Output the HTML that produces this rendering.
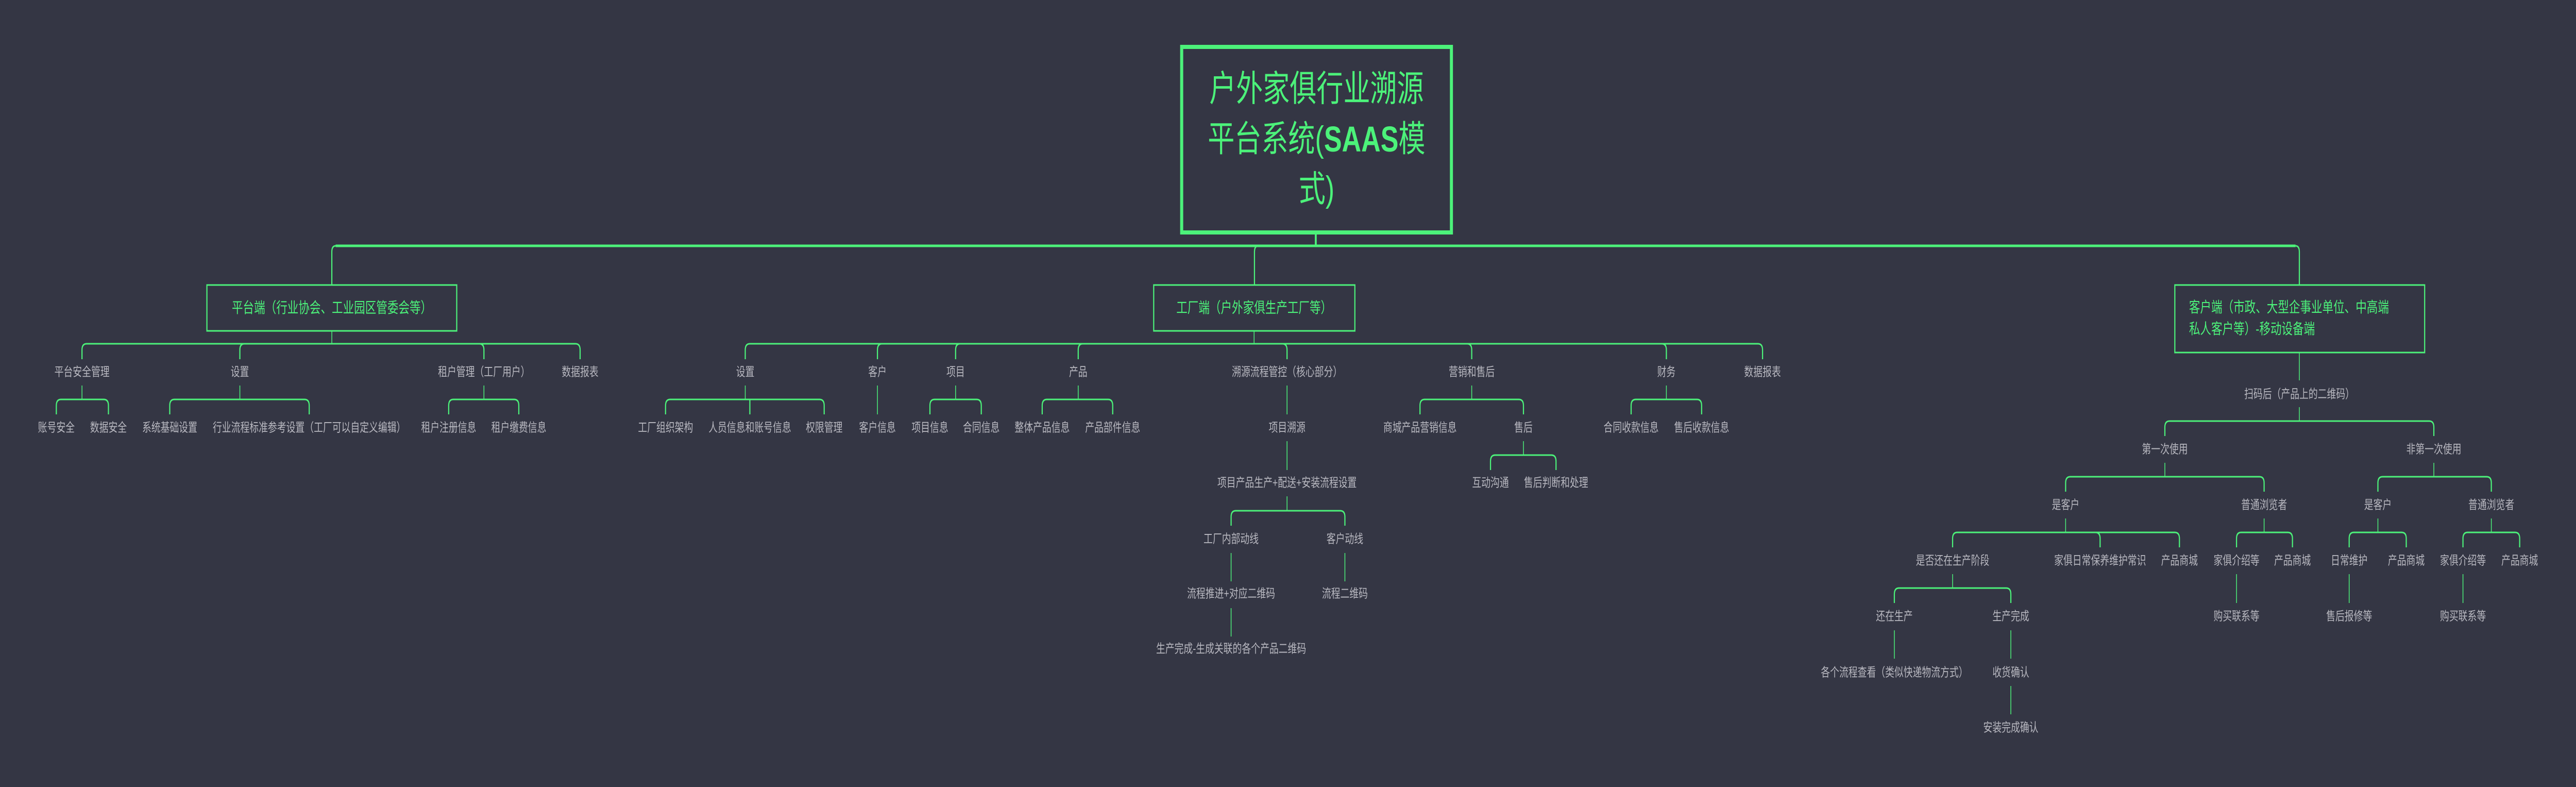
<!DOCTYPE html>
<html><head><meta charset="utf-8">
<style>
html,body{margin:0;padding:0;background:#343644;width:100vw;height:100vh;overflow:hidden;}
svg{display:block;width:100vw;height:100vh;position:absolute;left:0;top:0;}
.l{font-family:"Liberation Sans","Noto Sans CJK SC",sans-serif;font-size:24px;fill:#b8b8c0;text-anchor:middle;dominant-baseline:central;}
.b{font-family:"Liberation Sans","Noto Sans CJK SC",sans-serif;font-size:29px;fill:#4cf27a;dominant-baseline:central;}
.c{fill:none;stroke:#4cf27a;stroke-width:2;}
.bus{fill:none;stroke:#4cf27a;stroke-width:3;}
</style></head>
<body>
<svg viewBox="0 0 6723 1527" preserveAspectRatio="none" xmlns="http://www.w3.org/2000/svg">
<rect width="6723" height="1527" fill="#343644"/>

<rect x="3084" y="91" width="704" height="360" fill="none" stroke="#4cf27a" stroke-width="8"/>
<g style="font-family:'Liberation Sans','Noto Sans CJK SC',sans-serif;font-size:70px;fill:#4cf27a;text-anchor:middle;dominant-baseline:central;">
<text x="3436" y="173">户外家俱行业溯源</text>
<text x="3436" y="270">平台系统(<tspan font-weight="bold">SAAS</tspan>模</text>
<text x="3436" y="367">式)</text>
</g>
<line x1="3434" y1="455" x2="3434" y2="478" stroke="#4cf27a" stroke-width="5"/>
<path d="M876,477 H5991" stroke="#4cf27a" stroke-width="5" fill="none"/>
<path d="M876,477 Q866,477 866,489 V552" class="bus"/>
<path d="M5991,477 Q6001,477 6001,489 V552" class="bus"/>
<path d="M3284,477 Q3274,477 3274,489 V552" class="bus"/>

<rect x="540" y="553" width="652" height="89" fill="none" stroke="#4cf27a" stroke-width="3"/>
<text class="b" x="866" y="598" text-anchor="middle">平台端（行业协会、工业园区管委会等）</text>
<line x1="866" y1="643" x2="866" y2="667" class="c"/>
<path class="bus" d="M866,667 H226 Q214,667 214,679 V697"/>
<path class="bus" d="M866,667 H638 Q626,667 626,679 V697"/>
<path class="bus" d="M866,667 H1251 Q1263,667 1263,679 V697"/>
<path class="bus" d="M866,667 H1502 Q1514,667 1514,679 V697"/>
<text class="l" x="214" y="722">平台安全管理</text>
<text class="l" x="626" y="722">设置</text>
<text class="l" x="1263" y="722">租户管理（工厂用户）</text>
<text class="l" x="1514" y="722">数据报表</text>
<line class="c" x1="214" y1="748" x2="214" y2="775"/>
<path class="bus" d="M214,775 H159 Q147,775 147,787 V804"/>
<path class="bus" d="M214,775 H271 Q283,775 283,787 V804"/>
<line class="c" x1="626" y1="748" x2="626" y2="775"/>
<path class="bus" d="M626,775 H455 Q443,775 443,787 V804"/>
<path class="bus" d="M626,775 H795 Q807,775 807,787 V804"/>
<line class="c" x1="1263" y1="748" x2="1263" y2="775"/>
<path class="bus" d="M1263,775 H1183 Q1171,775 1171,787 V804"/>
<path class="bus" d="M1263,775 H1342 Q1354,775 1354,787 V804"/>
<text class="l" x="147" y="830">账号安全</text>
<text class="l" x="283" y="830">数据安全</text>
<text class="l" x="443" y="830">系统基础设置</text>
<text class="l" x="807" y="830">行业流程标准参考设置（工厂可以自定义编辑）</text>
<text class="l" x="1171" y="830">租户注册信息</text>
<text class="l" x="1354" y="830">租户缴费信息</text>

<rect x="3011" y="553" width="525" height="89" fill="none" stroke="#4cf27a" stroke-width="3"/>
<text class="b" x="3273" y="598" text-anchor="middle">工厂端（户外家俱生产工厂等）</text>
<line x1="3273" y1="643" x2="3273" y2="667" class="c"/>
<path class="bus" d="M3273,667 H1957 Q1945,667 1945,679 V697"/>
<path class="bus" d="M3273,667 H2302 Q2290,667 2290,679 V697"/>
<path class="bus" d="M3273,667 H2506 Q2494,667 2494,679 V697"/>
<path class="bus" d="M3273,667 H2826 Q2814,667 2814,679 V697"/>
<path class="bus" d="M3273,667 H3347 Q3359,667 3359,679 V697"/>
<path class="bus" d="M3273,667 H3829 Q3841,667 3841,679 V697"/>
<path class="bus" d="M3273,667 H4337 Q4349,667 4349,679 V697"/>
<path class="bus" d="M3273,667 H4588 Q4600,667 4600,679 V697"/>
<text class="l" x="1945" y="722">设置</text>
<text class="l" x="2290" y="722">客户</text>
<text class="l" x="2494" y="722">项目</text>
<text class="l" x="2814" y="722">产品</text>
<text class="l" x="3359" y="722">溯源流程管控（核心部分）</text>
<text class="l" x="3841" y="722">营销和售后</text>
<text class="l" x="4349" y="722">财务</text>
<text class="l" x="4600" y="722">数据报表</text>
<line class="c" x1="1945" y1="748" x2="1945" y2="775"/>
<path class="bus" d="M1945,775 H1749 Q1737,775 1737,787 V804"/>
<path class="bus" d="M1945,775 H1957 V804"/>
<path class="bus" d="M1945,775 H2139 Q2151,775 2151,787 V804"/>
<line class="c" x1="2290" y1="748" x2="2290" y2="804"/>
<line class="c" x1="2494" y1="748" x2="2494" y2="775"/>
<path class="bus" d="M2494,775 H2439 Q2427,775 2427,787 V804"/>
<path class="bus" d="M2494,775 H2549 Q2561,775 2561,787 V804"/>
<line class="c" x1="2814" y1="748" x2="2814" y2="775"/>
<path class="bus" d="M2814,775 H2732 Q2720,775 2720,787 V804"/>
<path class="bus" d="M2814,775 H2892 Q2904,775 2904,787 V804"/>
<line class="c" x1="3359" y1="748" x2="3359" y2="804"/>
<line class="c" x1="3841" y1="748" x2="3841" y2="775"/>
<path class="bus" d="M3841,775 H3718 Q3706,775 3706,787 V804"/>
<path class="bus" d="M3841,775 H3964 Q3976,775 3976,787 V804"/>
<line class="c" x1="4349" y1="748" x2="4349" y2="775"/>
<path class="bus" d="M4349,775 H4269 Q4257,775 4257,787 V804"/>
<path class="bus" d="M4349,775 H4429 Q4441,775 4441,787 V804"/>
<text class="l" x="1737" y="830">工厂组织架构</text>
<text class="l" x="1957" y="830">人员信息和账号信息</text>
<text class="l" x="2151" y="830">权限管理</text>
<text class="l" x="2290" y="830">客户信息</text>
<text class="l" x="2427" y="830">项目信息</text>
<text class="l" x="2561" y="830">合同信息</text>
<text class="l" x="2720" y="830">整体产品信息</text>
<text class="l" x="2904" y="830">产品部件信息</text>
<text class="l" x="3359" y="830">项目溯源</text>
<text class="l" x="3706" y="830">商城产品营销信息</text>
<text class="l" x="3976" y="830">售后</text>
<text class="l" x="4257" y="830">合同收款信息</text>
<text class="l" x="4441" y="830">售后收款信息</text>
<line class="c" x1="3359" y1="856" x2="3359" y2="912"/>
<line class="c" x1="3976" y1="856" x2="3976" y2="883"/>
<path class="bus" d="M3976,883 H3902 Q3890,883 3890,895 V912"/>
<path class="bus" d="M3976,883 H4049 Q4061,883 4061,895 V912"/>
<text class="l" x="3359" y="937">项目产品生产+配送+安装流程设置</text>
<text class="l" x="3890" y="937">互动沟通</text>
<text class="l" x="4061" y="937">售后判断和处理</text>
<line class="c" x1="3359" y1="963" x2="3359" y2="991"/>
<path class="bus" d="M3359,991 H3225 Q3213,991 3213,1003 V1020"/>
<path class="bus" d="M3359,991 H3498 Q3510,991 3510,1003 V1020"/>
<text class="l" x="3213" y="1046">工厂内部动线</text>
<text class="l" x="3510" y="1046">客户动线</text>
<line class="c" x1="3213" y1="1073" x2="3213" y2="1128"/>
<line class="c" x1="3510" y1="1073" x2="3510" y2="1128"/>
<text class="l" x="3213" y="1152">流程推进+对应二维码</text>
<text class="l" x="3510" y="1152">流程二维码</text>
<line class="c" x1="3213" y1="1180" x2="3213" y2="1235"/>
<text class="l" x="3213" y="1259">生产完成-生成关联的各个产品二维码</text>

<rect x="5676" y="553" width="652" height="131" fill="none" stroke="#4cf27a" stroke-width="3"/>
<text class="b" x="5713" y="597">客户端（市政、大型企事业单位、中高端</text>
<text class="b" x="5713" y="639">私人客户等）-移动设备端</text>
<line class="c" x1="6001" y1="685" x2="6001" y2="738"/>
<text class="l" x="6001" y="765">扫码后（产品上的二维码）</text>
<line class="c" x1="6001" y1="790" x2="6001" y2="817"/>
<path class="bus" d="M6001,817 H5662 Q5650,817 5650,829 V846"/>
<path class="bus" d="M6001,817 H6340 Q6352,817 6352,829 V846"/>
<text class="l" x="5650" y="872">第一次使用</text>
<text class="l" x="6352" y="872">非第一次使用</text>
<line class="c" x1="5650" y1="898" x2="5650" y2="925"/>
<path class="bus" d="M5650,925 H5403 Q5391,925 5391,937 V954"/>
<path class="bus" d="M5650,925 H5897 Q5909,925 5909,937 V954"/>
<line class="c" x1="6352" y1="898" x2="6352" y2="925"/>
<path class="bus" d="M6352,925 H6218 Q6206,925 6206,937 V954"/>
<path class="bus" d="M6352,925 H6490 Q6502,925 6502,937 V954"/>
<text class="l" x="5391" y="980">是客户</text>
<text class="l" x="5909" y="980">普通浏览者</text>
<text class="l" x="6206" y="980">是客户</text>
<text class="l" x="6502" y="980">普通浏览者</text>
<line class="c" x1="5391" y1="1006" x2="5391" y2="1033"/>
<path class="bus" d="M5391,1033 H5108 Q5096,1033 5096,1045 V1062"/>
<path class="bus" d="M5391,1033 H5469 Q5481,1033 5481,1045 V1062"/>
<path class="bus" d="M5391,1033 H5676 Q5688,1033 5688,1045 V1062"/>
<line class="c" x1="5909" y1="1006" x2="5909" y2="1033"/>
<path class="bus" d="M5909,1033 H5849 Q5837,1033 5837,1045 V1062"/>
<path class="bus" d="M5909,1033 H5971 Q5983,1033 5983,1045 V1062"/>
<line class="c" x1="6206" y1="1006" x2="6206" y2="1033"/>
<path class="bus" d="M6206,1033 H6143 Q6131,1033 6131,1045 V1062"/>
<path class="bus" d="M6206,1033 H6268 Q6280,1033 6280,1045 V1062"/>
<line class="c" x1="6502" y1="1006" x2="6502" y2="1033"/>
<path class="bus" d="M6502,1033 H6440 Q6428,1033 6428,1045 V1062"/>
<path class="bus" d="M6502,1033 H6564 Q6576,1033 6576,1045 V1062"/>
<text class="l" x="5096" y="1088">是否还在生产阶段</text>
<text class="l" x="5481" y="1088">家俱日常保养维护常识</text>
<text class="l" x="5688" y="1088">产品商城</text>
<text class="l" x="5837" y="1088">家俱介绍等</text>
<text class="l" x="5983" y="1088">产品商城</text>
<text class="l" x="6131" y="1088">日常维护</text>
<text class="l" x="6280" y="1088">产品商城</text>
<text class="l" x="6428" y="1088">家俱介绍等</text>
<text class="l" x="6576" y="1088">产品商城</text>
<line class="c" x1="5096" y1="1114" x2="5096" y2="1141"/>
<path class="bus" d="M5096,1141 H4956 Q4944,1141 4944,1153 V1170"/>
<path class="bus" d="M5096,1141 H5236 Q5248,1141 5248,1153 V1170"/>
<line class="c" x1="5837" y1="1114" x2="5837" y2="1170"/>
<line class="c" x1="6131" y1="1114" x2="6131" y2="1170"/>
<line class="c" x1="6428" y1="1114" x2="6428" y2="1170"/>
<text class="l" x="4944" y="1196">还在生产</text>
<text class="l" x="5248" y="1196">生产完成</text>
<text class="l" x="5837" y="1196">购买联系等</text>
<text class="l" x="6131" y="1196">售后报修等</text>
<text class="l" x="6428" y="1196">购买联系等</text>
<line class="c" x1="4944" y1="1223" x2="4944" y2="1278"/>
<line class="c" x1="5248" y1="1223" x2="5248" y2="1278"/>
<text class="l" x="4944" y="1305">各个流程查看（类似快递物流方式）</text>
<text class="l" x="5248" y="1305">收货确认</text>
<line class="c" x1="5248" y1="1331" x2="5248" y2="1386"/>
<text class="l" x="5248" y="1412">安装完成确认</text>
</svg>
</body></html>
